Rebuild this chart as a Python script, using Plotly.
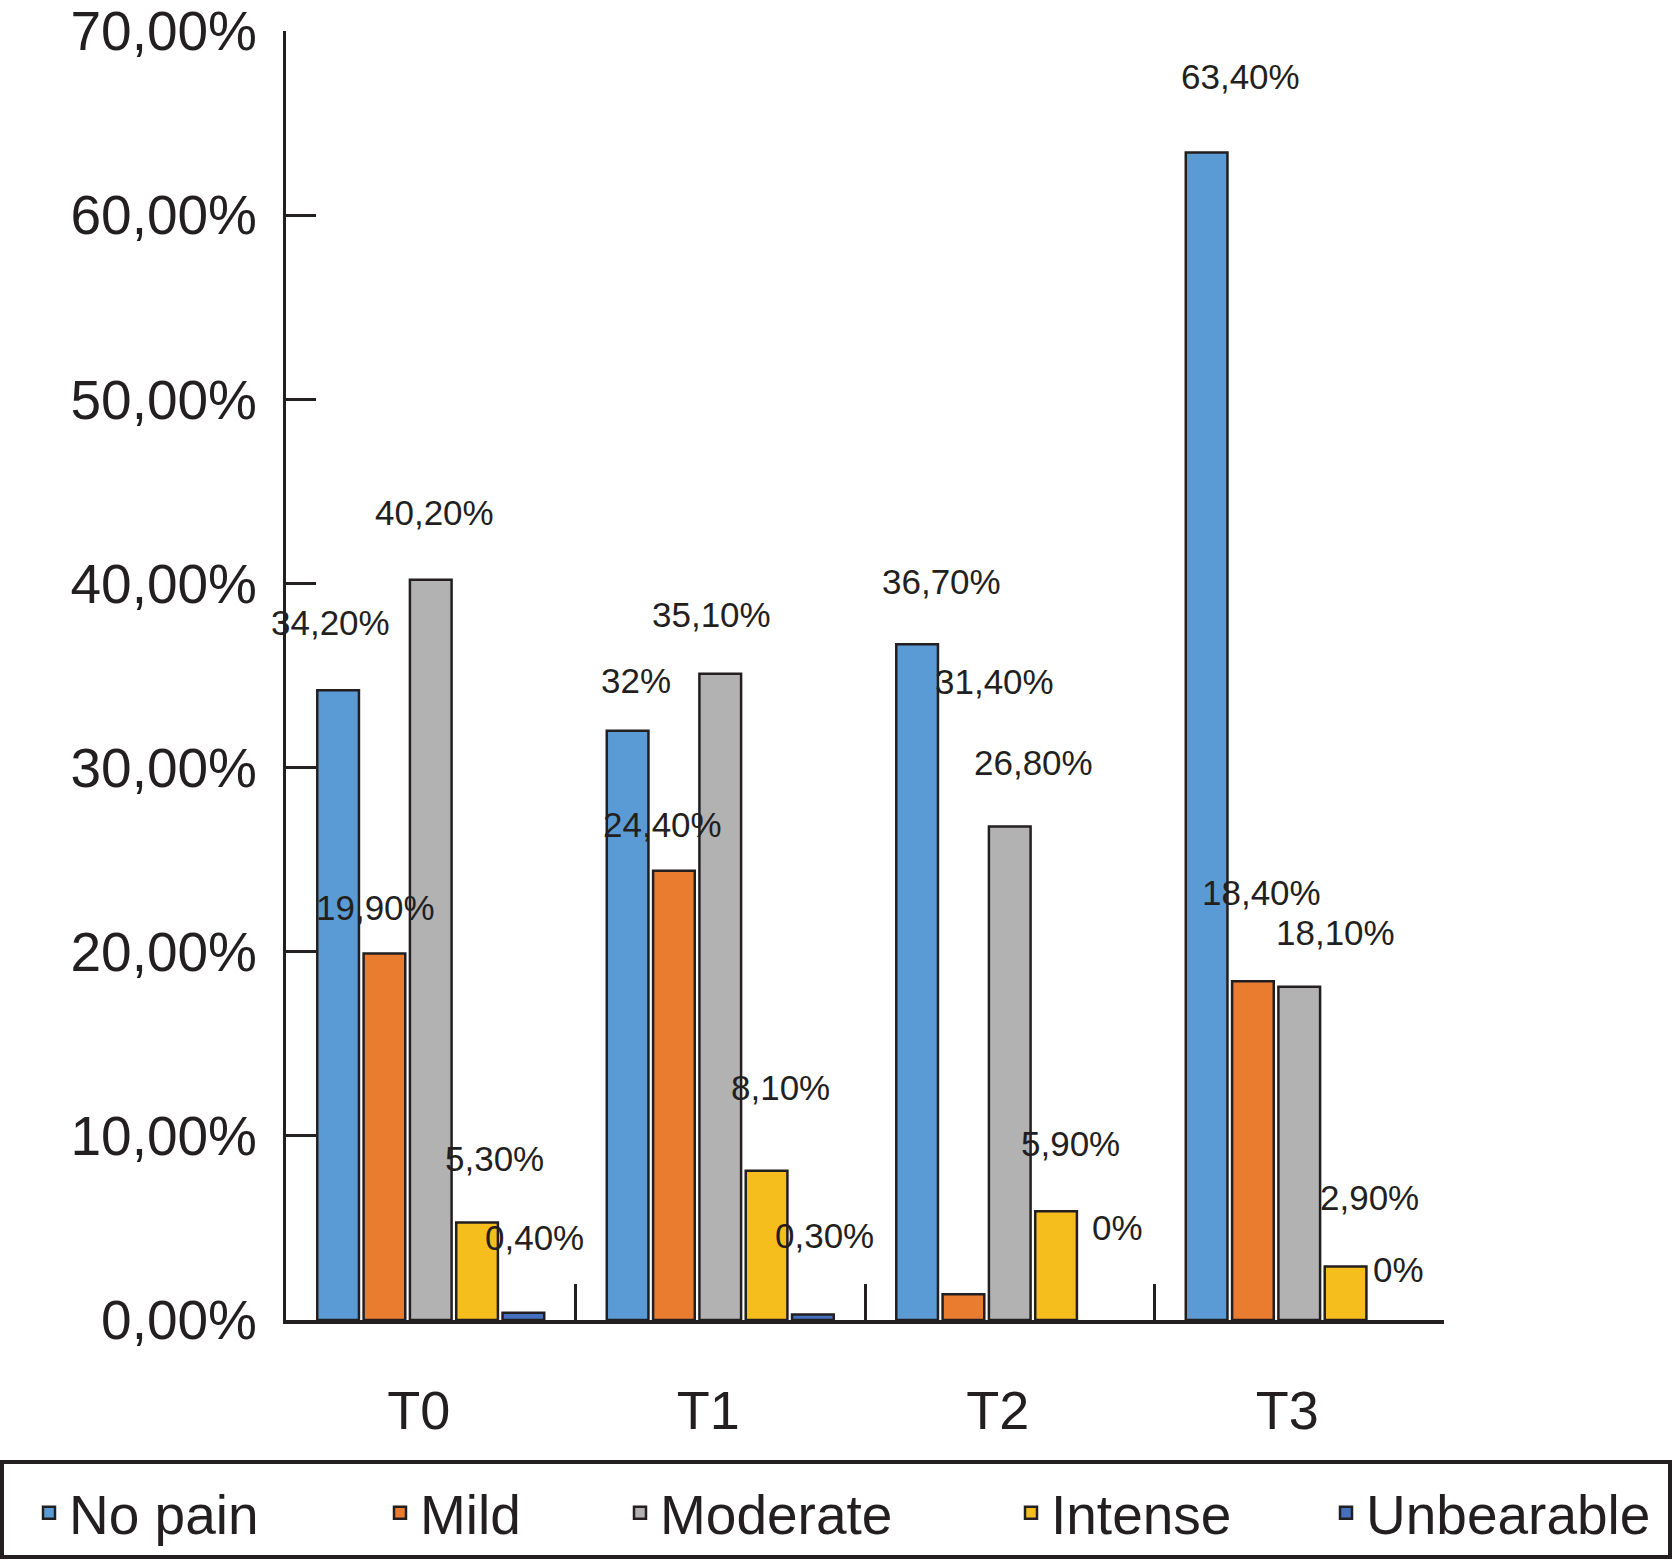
import plotly.graph_objects as go

# ---------------- data ----------------
categories = ["T0", "T1", "T2", "T3"]
series_names = ["No pain", "Mild", "Moderate", "Intense", "Unbearable"]

no_pain = [34.2, 32.0, 36.7, 63.4]
mild = [19.9, 24.4, 1.4, 18.4]
moderate = [40.2, 35.1, 26.8, 18.1]
intense = [5.3, 8.1, 5.9, 2.9]
unbearable = [0.4, 0.3, 0.0, 0.0]

# printed data labels (as they appear in the chart)
labels_no_pain = ["34,20%", "32%", "36,70%", "63,40%"]
labels_mild = ["19,90%", "24,40%", "31,40%", "18,40%"]
labels_moderate = ["40,20%", "35,10%", "26,80%", "18,10%"]
labels_intense = ["5,30%", "8,10%", "5,90%", "2,90%"]
labels_unbearable = ["0,40%", "0,30%", "0%", "0%"]

y_ticks = [0, 10, 20, 30, 40, 50, 60, 70]
y_tick_labels = ["0,00%", "10,00%", "20,00%", "30,00%", "40,00%", "50,00%", "60,00%", "70,00%"]

# ---------------- styles ----------------
colors = ["#5B9BD5", "#EA7C2F", "#B2B2B3", "#F6BE1C", "#4470BE"]
ink = "#231F20"
FONT = "Liberation Sans"

# label offsets (pixels) relative to the bar slot centre / label value
label_dx = [[-8, 8, 24, 34], [-9, -11, 31, 9], [4, -9, 24, 36], [17, 14, 14, 24], [11, 12, 15, 7]]
label_dy = [[68, 50, 63, 76], [46, 46, 60, 89], [67, 59, 64, 54], [64, 83, 68, 69], [75, 79, 93, 51]]

# legend text start positions (pixels from figure left)
legend_text_px = [69, 420, 660, 1051, 1366]

W, H = 1672, 1560
ML, MR, MT, MB = 286, 228, 31, 240
PW = W - ML - MR
PH = H - MT - MB

BARGAP = 0.2
BARGROUPGAP = 0.1

values = [no_pain, mild, moderate, intense, unbearable]
labels = [labels_no_pain, labels_mild, labels_moderate, labels_intense, labels_unbearable]

fig = go.Figure()
legend_keys = ["legend", "legend2", "legend3", "legend4", "legend5"]
for i, name in enumerate(series_names):
    fig.add_trace(go.Bar(
        x=categories, y=values[i], name=name,
        marker=dict(color=colors[i],
                    line=dict(color=ink, width=[2.5 if v > 0 else 0 for v in values[i]])),
        legend=legend_keys[i],
        hoverinfo="x+y+name",
    ))

# data labels as annotations
slot = (1 - BARGAP) / len(series_names)
annotations = []
for i in range(len(series_names)):
    for j in range(len(categories)):
        txt = labels[i][j]
        val = float(txt.replace("%", "").replace(",", "."))
        annotations.append(dict(
            x=j + (i - (len(series_names) - 1) / 2) * slot,
            y=val, xref="x", yref="y",
            text=txt, showarrow=False,
            xshift=label_dx[i][j], yshift=label_dy[i][j],
            xanchor="center", yanchor="middle",
            font=dict(family=FONT, size=35, color=ink),
        ))

def px_to_paper_x(px):
    return (px - ML) / PW

def px_to_paper_y(py):
    return (H - MB - py) / PH

# legend box
shapes = [dict(
    type="rect", xref="paper", yref="paper",
    x0=px_to_paper_x(2), x1=px_to_paper_x(1670),
    y0=px_to_paper_y(1557), y1=px_to_paper_y(1462),
    line=dict(color=ink, width=4), fillcolor="rgba(0,0,0,0)", layer="above",
)]

layout_legends = {}
for i, key in enumerate(legend_keys):
    layout_legends[key] = dict(
        x=px_to_paper_x(legend_text_px[i] - 40), xanchor="left",
        y=px_to_paper_y(1513), yanchor="middle",
        orientation="h",
        font=dict(family=FONT, size=55, color=ink),
        bgcolor="rgba(0,0,0,0)", borderwidth=0,
        itemclick=False, itemdoubleclick=False,
    )

fig.update_layout(
    width=W, height=H,
    margin=dict(l=ML, r=MR, t=MT, b=MB, pad=0, autoexpand=False),
    paper_bgcolor="white", plot_bgcolor="white",
    barmode="group", bargap=BARGAP, bargroupgap=BARGROUPGAP,
    font=dict(family=FONT, color=ink),
    showlegend=True,
    annotations=annotations,
    shapes=shapes,
    **layout_legends,
)

fig.update_xaxes(
    type="category", range=[-0.5, 3.5],
    showline=True, linecolor=ink, linewidth=4,
    ticks="inside", tickson="boundaries", ticklen=36, tickwidth=3, tickcolor=ink,
    showgrid=False, zeroline=False,
    tickfont=dict(family=FONT, size=54, color=ink),
    ticklabelstandoff=40, ticklabelshift=-12,
)
fig.update_yaxes(
    range=[0, 70], tickmode="array", tickvals=y_ticks, ticktext=y_tick_labels,
    showline=True, linecolor=ink, linewidth=3,
    ticks="inside", ticklen=30, tickwidth=3, tickcolor=ink,
    showgrid=False, zeroline=False,
    tickfont=dict(family=FONT, size=55, color=ink),
    ticklabelstandoff=15, ticklabeloverflow="allow",
)

fig.write_html(
    "out.html",
    config={"displayModeBar": False},
    post_script="document.body.style.margin='0';document.body.style.overflow='hidden';",
)
